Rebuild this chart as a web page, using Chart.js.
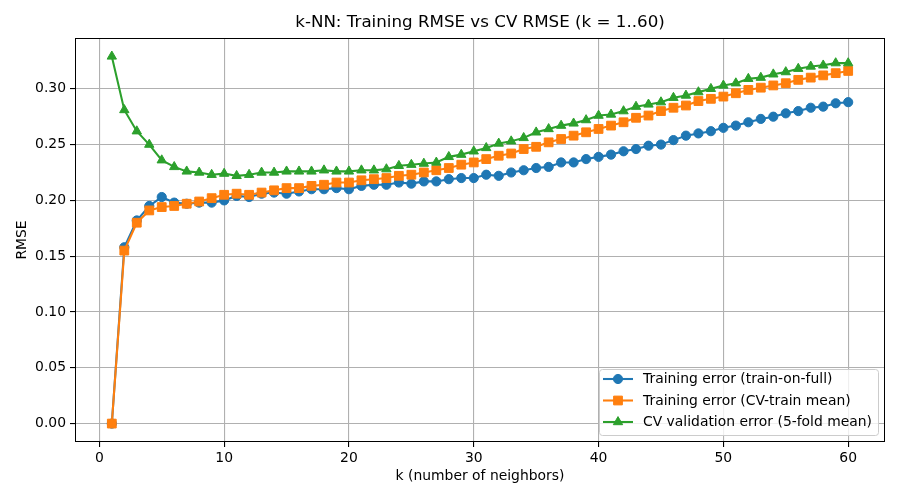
<!DOCTYPE html>
<html>
<head>
<meta charset="utf-8">
<script src="https://cdn.jsdelivr.net/npm/chart.js@4/dist/chart.umd.min.js"></script>
<style>
html,body{margin:0;padding:0;background:#fff;}
#c{display:block;}
</style>
</head>
<body>
<canvas id="c" width="900" height="500"></canvas>
<script>
const kValues = [1,2,3,4,5,6,7,8,9,10,11,12,13,14,15,16,17,18,19,20,21,22,23,24,25,26,27,28,29,30,31,32,33,34,35,36,37,38,39,40,41,42,43,44,45,46,47,48,49,50,51,52,53,54,55,56,57,58,59,60];
const trainFull = [0,0.158,0.182,0.195,0.203,0.198,0.197,0.198,0.198,0.200,0.204,0.203,0.206,0.207,0.206,0.208,0.210,0.210,0.211,0.210,0.213,0.214,0.214,0.216,0.215,0.217,0.217,0.219,0.220,0.220,0.223,0.222,0.225,0.227,0.229,0.230,0.234,0.234,0.237,0.239,0.241,0.244,0.246,0.249,0.250,0.254,0.258,0.260,0.262,0.265,0.267,0.270,0.273,0.275,0.278,0.280,0.283,0.284,0.287,0.288];
const cvTrain = [0,0.155,0.180,0.191,0.194,0.195,0.197,0.199,0.202,0.205,0.206,0.205,0.207,0.209,0.211,0.211,0.213,0.214,0.216,0.216,0.218,0.219,0.220,0.222,0.223,0.225,0.227,0.229,0.232,0.234,0.237,0.240,0.242,0.246,0.248,0.252,0.255,0.258,0.261,0.264,0.267,0.270,0.274,0.276,0.280,0.283,0.285,0.289,0.291,0.293,0.296,0.299,0.301,0.303,0.305,0.308,0.310,0.312,0.314,0.316];
const cvVal = [0.329,0.281,0.262,0.250,0.236,0.230,0.226,0.225,0.223,0.224,0.222,0.223,0.225,0.225,0.226,0.226,0.226,0.227,0.226,0.226,0.227,0.227,0.228,0.231,0.232,0.233,0.234,0.239,0.241,0.244,0.247,0.251,0.253,0.256,0.261,0.264,0.267,0.269,0.272,0.276,0.277,0.280,0.284,0.286,0.288,0.292,0.294,0.297,0.300,0.303,0.305,0.309,0.310,0.313,0.315,0.318,0.320,0.321,0.323,0.323];
const xTicks = [0,10,20,30,40,50,60];
const yTicks = [0,0.05,0.10,0.15,0.20,0.25,0.30];
const chartTitle = 'k-NN: Training RMSE vs CV RMSE (k = 1..60)';
const seriesNames = ['Training error (train-on-full)','Training error (CV-train mean)','CV validation error (5-fold mean)'];
const seriesColors = ['#1f77b4','#ff7f0e','#2ca02c'];
const seriesMarkers = ['circle','rect','triangle'];
const seriesRadius = [4.6,6.2,5.4];

const FONT = 'DejaVu Sans';
const toXY = arr => kValues.map((k,i)=>({x:k,y:arr[i]}));
const seriesData = [trainFull, cvTrain, cvVal];

function drawMarker(ctx, style, x, y, r, color){
  ctx.save();
  ctx.fillStyle = color; ctx.strokeStyle = color; ctx.lineWidth = 1;
  ctx.beginPath();
  if(style==='circle'){ ctx.arc(x,y,r,0,Math.PI*2); }
  else if(style==='rect'){ const s=Math.SQRT1_2*r; ctx.rect(x-s,y-s,2*s,2*s); }
  else {
    let a=0;
    ctx.moveTo(x+Math.sin(a)*r, y-Math.cos(a)*r); a+=2*Math.PI/3;
    ctx.lineTo(x+Math.sin(a)*r, y-Math.cos(a)*r); a+=2*Math.PI/3;
    ctx.lineTo(x+Math.sin(a)*r, y-Math.cos(a)*r);
    ctx.closePath();
  }
  ctx.fill(); ctx.stroke();
  ctx.restore();
}

const framePlugin = {
  id:'frameLegend',
  afterDraw(chart){
    const {ctx, chartArea:a} = chart;
    ctx.save();
    // title centred on the axes
    ctx.fillStyle='#000';
    ctx.font = '16.7px "'+FONT+'"';
    ctx.textAlign='center'; ctx.textBaseline='middle';
    ctx.fillText(chartTitle, (a.left+a.right)/2, 23);
    // frame
    ctx.strokeStyle='#000'; ctx.lineWidth=1;
    ctx.strokeRect(Math.round(a.left)+0.5, Math.round(a.top)+0.5, Math.round(a.right-a.left)-1, Math.round(a.bottom-a.top)-1);
    // legend
    const w=279, h=66;
    const bx=a.right-7-w, by=a.bottom-7-h;
    ctx.beginPath();
    if(ctx.roundRect){ ctx.roundRect(bx+0.5,by+0.5,w,h,3); } else { ctx.rect(bx+0.5,by+0.5,w,h); }
    ctx.fillStyle='rgba(255,255,255,0.8)'; ctx.fill();
    ctx.strokeStyle='#cccccc'; ctx.lineWidth=1; ctx.stroke();
    ctx.font = '13.9px "'+FONT+'"';
    ctx.textBaseline='middle'; ctx.textAlign='left';
    for(let i=0;i<3;i++){
      const cy = by+10+i*21.5;
      ctx.strokeStyle=seriesColors[i]; ctx.lineWidth=2.08;
      ctx.beginPath(); ctx.moveTo(bx+4,cy); ctx.lineTo(bx+34,cy); ctx.stroke();
      drawMarker(ctx, seriesMarkers[i], bx+19, cy, seriesRadius[i], seriesColors[i]);
      ctx.fillStyle='#000';
      ctx.fillText(seriesNames[i], bx+44, cy+0.5);
    }
    ctx.restore();
  }
};

new Chart(document.getElementById('c'), {
  type:'line',
  data:{
    datasets: seriesData.map((arr,i)=>({
      label: seriesNames[i],
      data: toXY(arr),
      borderColor: seriesColors[i],
      backgroundColor: seriesColors[i],
      pointBackgroundColor: seriesColors[i],
      pointBorderColor: seriesColors[i],
      pointBorderWidth: 1,
      borderWidth: 2.08,
      pointStyle: seriesMarkers[i],
      pointRadius: seriesRadius[i],
      pointHoverRadius: seriesRadius[i],
      tension: 0,
      fill: false,
      order: 3-i
    }))
  },
  options:{
    responsive:false,
    animation:false,
    devicePixelRatio:1,
    layout:{padding:{left:0,right:15,top:38,bottom:0}},
    plugins:{
      legend:{display:false},
      tooltip:{enabled:false},
      title:{display:false}
    },
    scales:{
      x:{
        type:'linear', min:-1.95, max:62.95,
        afterFit(s){ s.height=58; },
        afterBuildTicks(s){ s.ticks = xTicks.map(v=>({value:v})); },
        grid:{color:'#b0b0b0',lineWidth:1.1,tickColor:'#000',tickLength:5,drawTicks:true},
        border:{display:false},
        ticks:{color:'#000',font:{family:FONT,size:13.9},padding:3,maxRotation:0,autoSkip:false,callback:v=>String(v)},
        title:{display:true,text:'k (number of neighbors)',color:'#000',font:{family:FONT,size:13.9},padding:{top:0,bottom:15}}
      },
      y:{
        type:'linear', min:-0.0165, max:0.3455,
        afterFit(s){ s.width=75; },
        afterBuildTicks(s){ s.ticks = yTicks.map(v=>({value:v})); },
        grid:{color:'#b0b0b0',lineWidth:1.1,tickColor:'#000',tickLength:5,drawTicks:true},
        border:{display:false},
        ticks:{color:'#000',font:{family:FONT,size:13.9},padding:4,autoSkip:false,callback:v=>v.toFixed(2)},
        title:{display:true,text:'RMSE',color:'#000',font:{family:FONT,size:13.9},padding:{top:14,bottom:0}}
      }
    }
  },
  plugins:[framePlugin]
});
</script>
</body>
</html>
